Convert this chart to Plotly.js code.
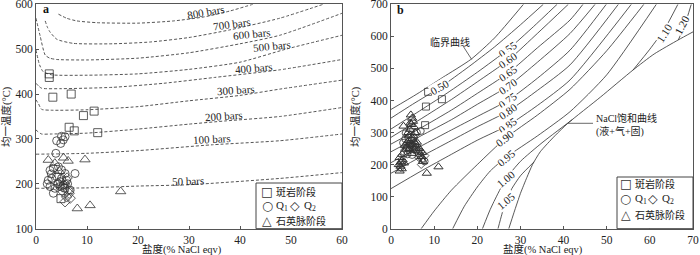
<!DOCTYPE html>
<html><head><meta charset="utf-8">
<script src="https://cdn.plot.ly/plotly-3.0.1.min.js"></script>
<style>html,body{margin:0;padding:0;background:#fff;} #chart{width:700px;height:255px;}</style>
</head><body><div id="chart"></div>
<script>
// ---------- Panel a: isobars (salinity wt% NaCl eqv, temperature °C) ----------
const p800Sal = [4.4, 6, 8, 12, 20, 27, 33, 38, 42.5];
const p800T   = [578, 569, 563, 559, 558, 563, 572, 585, 600];
const p700Sal = [1.8, 2.2, 2.7, 4.1, 7.3, 15, 22.4, 30, 38, 47.8, 56.3];
const p700T   = [563, 550, 539, 522, 513, 512, 516, 526, 543, 569, 600];
const p600Sal = [0, 0.8, 1.8, 2.7, 4.1, 10, 20, 30, 40, 47.8, 60];
const p600T   = [569, 530, 487, 480, 477, 476, 480, 492, 512, 531, 580];
const p500Sal = [0, 0.7, 1.4, 3, 10, 20, 30, 40, 49, 60];
const p500T   = [498, 465, 450, 443, 442, 445, 455, 471, 500, 531];
const p400Sal = [0, 0.5, 1.1, 5, 15, 25, 35, 47.8, 60];
const p400T   = [424, 418, 413, 412, 415, 424, 437, 454, 477];
const p300Sal = [0, 0.5, 1.1, 3, 10, 20, 30, 40, 47.8, 60];
const p300T   = [387, 378, 366, 364, 365, 372, 385, 397, 411, 431];
const p200Sal = [0, 0.4, 1.1, 3, 10, 20, 30, 37, 47.8, 60];
const p200T   = [320, 316, 311, 311, 313, 322, 333, 340, 350, 370];
const p100Sal = [0, 10, 20, 34.6, 47.8, 60];
const p100T   = [266, 268, 274, 287, 296, 311];
const p50Sal  = [0, 10, 20, 30, 47.8, 60];
const p50T    = [190, 191, 195, 198, 212, 225];
const isobarNames = ['800 bars','700 bars','600 bars','500 bars','400 bars','300 bars','200 bars','100 bars','50 bars'];

// Panel a: inclusions
const aPorphSal = [2.6, 2.6, 3.3, 6.9, 9.3, 11.4, 6.5, 7.5, 12.1, 4.9];
const aPorphT   = [445, 437, 393, 400, 352, 362, 326, 318, 314, 167];
const aQ1Sal = [4.05, 5.0, 5.7, 5.35, 4.85, 3.9, 7.65, 2.75, 3.4, 4.4, 5.0, 5.7, 2.4, 3.1, 4.05, 5.0, 6.0, 2.75, 3.7, 4.7, 5.7, 6.7, 3.4, 4.7, 5.35, 2.2, 3.0, 4.3, 6.2];
const aQ1T   = [296, 306, 305, 298, 290, 268, 223, 230, 235, 238, 231, 223, 208, 212, 216, 212, 208, 194, 190, 194, 190, 186, 179, 205, 197, 200, 222, 200, 200];
const aQ2Sal = [5.7, 6.0, 6.5, 5.35, 6.3, 4.4, 6.7, 5.2, 6.1];
const aQ2T   = [160, 171, 179, 182, 186, 201, 168, 193, 213];
const aVeinSal = [2.4, 3.7, 5.4, 6.3, 9.6, 16.6, 8.1, 10.6, 4.6, 5.6];
const aVeinT   = [253, 246, 258, 251, 254, 183, 145, 152, 228, 204];

// ---------- Panel b: density lines (g/cm3) ----------
const critSal = [0, 6, 12, 18.5, 24, 30.7];
const critT   = [372, 420, 472, 528, 595, 700];
const d050Sal = [0, 5, 11.4, 18, 24, 30, 35.3];
const d050T   = [345, 388, 441, 505, 567, 636, 700];
const d055Sal = [0, 6, 13, 20, 27.2, 33, 38.5];
const d055T   = [311, 362, 423, 488, 560, 630, 700];
const d060Sal = [0, 7, 14, 20, 27.2, 34, 41.1];
const d060T   = [285, 343, 403, 458, 526, 610, 700];
const d065Sal = [0, 7, 14, 20, 27.2, 34, 41.5, 44.5];
const d065T   = [264, 315, 370, 422, 486, 565, 651, 700];
const d070Sal = [0, 7, 14, 20, 27.2, 34, 41.5, 47.3];
const d070T   = [240, 290, 340, 388, 445, 520, 609, 700];
const d075Sal = [0, 7, 14, 20, 27.2, 34, 41.5, 49.9];
const d075T   = [206, 258, 308, 350, 401, 470, 557, 700];
const d080Sal = [0, 7, 14, 20, 27.2, 34, 41.5, 52.7];
const d080T   = [173, 225, 275, 318, 367, 432, 511, 700];
const d085Sal = [0, 7, 14, 20, 27.2, 34, 41.5, 55.7];
const d085T   = [125, 180, 232, 276, 323, 385, 464, 700];
const d090Sal = [7, 10, 14, 20, 26.5, 34, 41.5, 50, 58.6];
const d090T   = [0, 55, 120, 200, 282, 355, 435, 555, 700];
const d095Sal = [14.3, 17, 20, 23, 26.6, 34, 41.5, 50, 61.5];
const d095T   = [0, 70, 130, 180, 222, 290, 365, 480, 700];
const d100Sal = [21.2, 23, 24.8, 26.6, 30, 35, 42];
const d100T   = [0, 60, 110, 155, 210, 268, 340];
const d105Sal = [24.8, 25.7, 26.6, 28, 30, 33.2];
const d105T   = [0, 45, 87, 125, 165, 209];
const d110Sal = [56.1, 60, 63.5, 66.5];
const d110T   = [495, 560, 625, 700];
const d120Sal = [66.6, 68, 69.6];
const d120T   = [589, 632, 700];
const satSal = [27.3, 28.5, 30, 31.5, 32.8, 34.6, 38, 41, 48.5, 56.1, 61, 66.6, 70];
const satT   = [0, 50, 110, 160, 200, 240, 290, 329, 410, 495, 545, 589, 614];
const densityNames = ['0.50','0.55','0.60','0.65','0.70','0.75','0.80','0.85','0.90','0.95','1.00','1.05','1.10','1.20'];

// Panel b: inclusions
const bPorphSal = [8.6, 11.8, 8.1, 7.9];
const bPorphT   = [427, 404, 381, 323];
const bQ1Sal = [3.4, 4.0, 4.7, 5.6, 3.6, 6.5, 7.2, 7.8, 3.0, 4.2, 5.0, 6.8, 2.8, 3.8, 6.0, 6.9, 4.4, 5.3, 3.3, 4.9];
const bQ1T   = [298, 285, 276, 262, 252, 235, 218, 210, 240, 244, 258, 228, 268, 232, 300, 305, 265, 248, 280, 230];
const bQ2Sal = [7.0, 7.6, 6.4, 2.3, 7.9, 6.9];
const bQ2T   = [200, 215, 222, 190, 228, 240];
const bVeinSal = [2.0, 2.2, 2.4, 2.0, 2.6, 2.9, 4.6, 4.9, 5.1, 4.7, 5.3, 4.4, 5.6, 4.2, 5.0, 3.8, 4.5, 5.8, 3.5, 6.2, 4.8, 7.0, 7.4, 8.3, 11.0, 3.0, 1.8, 6.6, 5.4, 4.0, 3.2, 4.5, 5.2, 6.0, 2.5, 7.2, 4.3, 4.9, 5.5, 4.1, 3.7, 5.9, 2.3, 2.7];
const bVeinT   = [180, 195, 210, 222, 232, 320, 355, 345, 335, 325, 318, 310, 300, 290, 282, 270, 262, 255, 248, 242, 235, 225, 210, 173, 193, 205, 200, 250, 270, 300, 260, 330, 290, 270, 187, 238, 250, 265, 245, 275, 255, 262, 205, 215];

// ---------- build ----------
const W = 700, H = 255;
const fx = v => v / W, fy = v => 1 - v / H;
const SERIF = 'Liberation Serif, Noto Sans CJK SC';
const CJK = 'Liberation Serif, Noto Sans CJK SC';
const INK = '#333';

const traces = [];
function curve(xs, ys, ax, dashed, w) {
  traces.push({x: xs, y: ys, xaxis: ax, yaxis: ax === 'x' ? 'y' : 'y2', type: 'scatter', mode: 'lines',
    line: {color: dashed ? '#555' : '#3a3a3a', width: w || (dashed ? 1 : 0.85), dash: dashed ? '3px,2px' : 'solid', shape: 'spline', smoothing: 0.6},
    hoverinfo: 'skip', showlegend: false});
}
function pts(xs, ys, ax, sym, size, lw) {
  traces.push({x: xs, y: ys, xaxis: ax, yaxis: ax === 'x' ? 'y' : 'y2', type: 'scatter', mode: 'markers',
    marker: {symbol: sym, size: size, color: INK, line: {color: INK, width: lw || 0.8}}, showlegend: false});
}
[[p800Sal,p800T],[p700Sal,p700T],[p600Sal,p600T],[p500Sal,p500T],[p400Sal,p400T],[p300Sal,p300T],[p200Sal,p200T],[p100Sal,p100T],[p50Sal,p50T]]
  .forEach(c => curve(c[0], c[1], 'x', true));
pts(aPorphSal, aPorphT, 'x', 'square-open', 8);
pts(aQ1Sal, aQ1T, 'x', 'circle-open', 8);
pts(aQ2Sal, aQ2T, 'x', 'diamond-open', 8);
pts(aVeinSal, aVeinT, 'x', 'triangle-up-open', 9);

curve(critSal, critT, 'x2', false);
[[d050Sal,d050T],[d055Sal,d055T],[d060Sal,d060T],[d065Sal,d065T],[d070Sal,d070T],[d075Sal,d075T],[d080Sal,d080T],[d085Sal,d085T],[d090Sal,d090T],[d095Sal,d095T],[d100Sal,d100T],[d105Sal,d105T],[d110Sal,d110T],[d120Sal,d120T]]
  .forEach(c => curve(c[0], c[1], 'x2', false));
curve(satSal, satT, 'x2', false);
pts(bPorphSal, bPorphT, 'x2', 'square-open', 7);
pts(bQ1Sal, bQ1T, 'x2', 'circle-open', 7);
pts(bQ2Sal, bQ2T, 'x2', 'diamond-open', 6);
pts(bVeinSal, bVeinT, 'x2', 'triangle-up-open', 8, 1);

const tickfont = {family: SERIF, size: 11.5, color: '#222'};
const axBase = {showline: true, mirror: true, linecolor: '#555', linewidth: 1, ticks: 'inside', ticklen: 3,
  tickcolor: '#555', showgrid: false, zeroline: false, tickfont: tickfont, automargin: false, fixedrange: true,
  ticklabeloverflow: 'allow'};
const yDom = [(H - 228.7) / H, (H - 4.3) / H];

const ann = [];
function pAnn(x, y, text, font, extra) {
  ann.push(Object.assign({x: fx(x), y: fy(y), xref: 'paper', yref: 'paper', xanchor: 'center', yanchor: 'middle',
    text: text, showarrow: false, font: font}, extra || {}));
}
// isobar labels
const isoLabelSal = [33.3, 38.4, 42.3, 46.3, 42.7, 39.3, 36.9, 34.6, 29.9];
const isoLabelT = [583, 557, 533, 508, 457, 409, 351, 299, 206];
const isoLabelAng = [-10, -8, -6, -6, -5, -4, -4, -3, -2];
isobarNames.forEach((n, i) => ann.push({x: isoLabelSal[i], y: isoLabelT[i], xref: 'x', yref: 'y', text: n, showarrow: false,
  xanchor: 'center', yanchor: 'middle', textangle: isoLabelAng[i], font: {family: SERIF, size: 11, color: '#222'}}));
// density labels
const dLabelSal = [11.4, 27.2, 27.2, 27.2, 27.2, 27.2, 27.2, 27.2, 26.5, 26.6, 26.6, 26.6, 63.3, 67.4];
const dLabelT = [441, 560, 526, 486, 445, 401, 367, 323, 282, 222, 155, 87, 612, 636];
const dLabelAng = [-30, -35, -35, -35, -35, -35, -35, -35, -38, -40, -40, -40, -58, -62];
densityNames.forEach((n, i) => ann.push({x: dLabelSal[i], y: dLabelT[i], xref: 'x2', yref: 'y2', text: n, showarrow: false,
  xanchor: 'center', yanchor: 'middle', textangle: dLabelAng[i], bgcolor: '#fff', borderpad: 0,
  font: {family: SERIF, size: 11, color: '#222'}}));
// critical curve label + leader
ann.push({x: 13.6, y: 584, xref: 'x2', yref: 'y2', text: '临界曲线', showarrow: false, xanchor: 'center', yanchor: 'middle',
  font: {family: 'Noto Sans CJK SC', size: 10, color: '#222'}});
pAnn(594, 124.5, 'NaCl饱和曲线<br>(液+气+固)', {family: CJK, size: 10, color: '#222'}, {xanchor: 'left', align: 'left'});
// panel letters
pAnn(46, 9, '<b>a</b>', {family: SERIF, size: 12, color: '#111'});
pAnn(400, 10, '<b>b</b>', {family: SERIF, size: 12, color: '#111'});
// axis titles
const titleFont = {family: CJK, size: 10.5, color: '#222'};
pAnn(7, 117, '均一温度(°C)', titleFont, {textangle: -90});
pAnn(356, 117, '均一温度(°C)', titleFont, {textangle: -90});
pAnn(182, 249.5, '盐度(% NaCl eqv)', titleFont);
pAnn(543, 249.5, '盐度(% NaCl eqv)', titleFont);
// legends: glyph and text as separate annotations
const legFont = {family: 'Noto Sans CJK SC', size: 10, color: '#222'};
const glyphFont = {family: 'DejaVu Sans', size: 12.5, color: '#333'};
const qFont = {family: 'Liberation Serif', size: 11, color: '#222'};
function legend(gx, rowY, qx) {
  pAnn(gx, rowY[0], '□', glyphFont);
  pAnn(gx + 7, rowY[0], '斑岩阶段', legFont, {xanchor: 'left'});
  pAnn(gx, rowY[1], '○', glyphFont);
  pAnn(gx + 7, rowY[1], 'Q<sub>1</sub>', qFont, {xanchor: 'left'});
  pAnn(qx, rowY[1], '◇', glyphFont);
  pAnn(qx + 7, rowY[1], 'Q<sub>2</sub>', qFont, {xanchor: 'left'});
  pAnn(gx, rowY[2], '△', glyphFont);
  pAnn(gx + 7, rowY[2], '石英脉阶段', legFont, {xanchor: 'left'});
}
legend(267, [191.7, 205.7, 220], 295);
legend(625.5, [183, 198.7, 214.7], 653);

const shapes = [
  {type: 'rect', xref: 'paper', yref: 'paper', x0: fx(256), x1: fx(342), y0: fy(228.7), y1: fy(183), line: {color: '#444', width: 1}, fillcolor: '#fff', layer: 'above'},
  {type: 'rect', xref: 'paper', yref: 'paper', x0: fx(617), x1: fx(693), y0: fy(228.7), y1: fy(177), line: {color: '#444', width: 1}, fillcolor: '#fff', layer: 'above'},
  {type: 'line', xref: 'paper', yref: 'paper', x0: fx(568), x1: fx(593), y0: fy(123.3), y1: fy(123.3), line: {color: '#444', width: 0.8}},
  {type: 'line', xref: 'x2', yref: 'y2', x0: 16.6, y0: 572, x1: 18.7, y1: 528, line: {color: '#444', width: 0.8}}
];

const layout = {
  width: W, height: H, margin: {l: 0, r: 0, t: 0, b: 0}, paper_bgcolor: '#fff', plot_bgcolor: '#fff', showlegend: false,
  xaxis: Object.assign({}, axBase, {domain: [36 / W, 342 / W], range: [0, 60], tickvals: [0, 10, 20, 30, 40, 50, 60], anchor: 'y'}),
  yaxis: Object.assign({}, axBase, {domain: yDom, range: [100, 600], tickvals: [100, 200, 300, 400, 500, 600], anchor: 'x'}),
  xaxis2: Object.assign({}, axBase, {domain: [391 / W, 693 / W], range: [0, 70], tickvals: [0, 10, 20, 30, 40, 50, 60, 70], anchor: 'y2'}),
  yaxis2: Object.assign({}, axBase, {domain: yDom, range: [0, 700], tickvals: [0, 100, 200, 300, 400, 500, 600, 700], anchor: 'x2'}),
  annotations: ann, shapes: shapes
};
Plotly.newPlot('chart', traces, layout, {displayModeBar: false, staticPlot: true});
</script></body></html>
